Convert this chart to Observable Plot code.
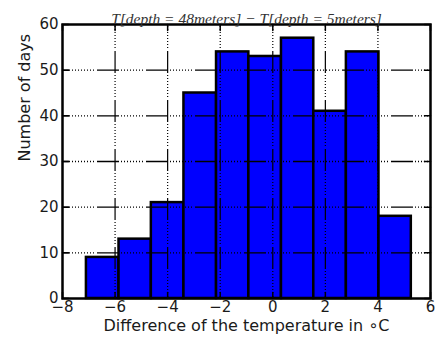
<!DOCTYPE html>
<html>
<head>
<meta charset="utf-8">
<script src="https://cdn.jsdelivr.net/npm/d3@7"></script>
<script src="https://cdn.jsdelivr.net/npm/@observablehq/plot@0.6"></script>
<style>
  html, body { margin: 0; padding: 0; background: #fff; }
</style>
</head>
<body>
<div id="chart"></div>
<script>
const counts = [9, 13, 21, 45, 54, 53, 57, 41, 54, 18];
const binEdges = [-7.09, -5.85, -4.62, -3.38, -2.14, -0.91, 0.33, 1.56, 2.80, 4.04, 5.27];
const xTicks = [-8, -6, -4, -2, 0, 2, 4, 6];
const yTicks = [0, 10, 20, 30, 40, 50, 60];
const xDomain = [-8, 6];
const yDomain = [0, 60];
const titleText = "T[depth = 48meters] \u2212 T[depth = 5meters]";
const xLabel = "Difference of the temperature in \u2218C";
const yLabel = "Number of days";

const bins = counts.map((c, i) => ({x1: binEdges[i], x2: binEdges[i + 1], count: c}));
const tickShape = {draw(ctx, l) { ctx.moveTo(0, 0); ctx.lineTo(0, -l); }};
const dash = "22,2,1,2,1,2,1,2,1,2,1,2,1,2,1,2,1,3";
const fmt = d => d < 0 ? "\u2212" + (-d) : String(d);

const chart = Plot.plot({
  width: 438,
  height: 338,
  marginLeft: 62,
  marginRight: 8,
  marginTop: 24,
  marginBottom: 40,
  style: {fontFamily: "DejaVu Sans", fontSize: "15px", background: "white", color: "#1a1a1a"},
  x: {domain: xDomain, label: null},
  y: {domain: yDomain, label: null},
  marks: [
    Plot.rectY(bins, {x1: "x1", x2: "x2", y: "count", fill: "#0000ff", stroke: "black", strokeWidth: 2.5}),
    Plot.ruleY(yTicks.slice(1, -1), {stroke: "black", strokeWidth: 1.3, strokeDasharray: dash, strokeDashoffset: 14}),
    Plot.ruleX(xTicks.slice(1, -1), {stroke: "black", strokeWidth: 1.2, strokeDasharray: dash, strokeDashoffset: 22}),
    Plot.vector(yTicks, {x: () => xDomain[0], y: d => d, length: 6, rotate: 90, anchor: "start", shape: tickShape, stroke: "black", strokeWidth: 1.5}),
    Plot.vector(yTicks, {x: () => xDomain[1], y: d => d, length: 6, rotate: -90, anchor: "start", shape: tickShape, stroke: "black", strokeWidth: 1.5}),
    Plot.vector(xTicks, {x: d => d, y: () => yDomain[0], length: 6, rotate: 0, anchor: "start", shape: tickShape, stroke: "black", strokeWidth: 1.5}),
    Plot.vector(xTicks, {x: d => d, y: () => yDomain[1], length: 6, rotate: 180, anchor: "start", shape: tickShape, stroke: "black", strokeWidth: 1.5}),
    Plot.frame({stroke: "black", strokeWidth: 2.5}),
    Plot.axisX({ticks: xTicks, tickSize: 0, tickPadding: 3, tickFormat: fmt, fontSize: 15, label: null}),
    Plot.axisY({ticks: yTicks, tickSize: 0, tickPadding: 4, tickFormat: fmt, fontSize: 15, label: null}),
    Plot.text([titleText], {frameAnchor: "top", dy: -12, fontFamily: "Liberation Serif", fontStyle: "italic", fontSize: 15.5, fill: "#333"}),
    Plot.text([xLabel], {frameAnchor: "bottom", dy: 32, fontSize: 16, fill: "#1a1a1a"}),
    Plot.text([yLabel], {frameAnchor: "left", dx: -38, rotate: -90, fontSize: 16, fill: "#1a1a1a"})
  ]
});
document.getElementById("chart").appendChild(chart);
</script>
</body>
</html>
